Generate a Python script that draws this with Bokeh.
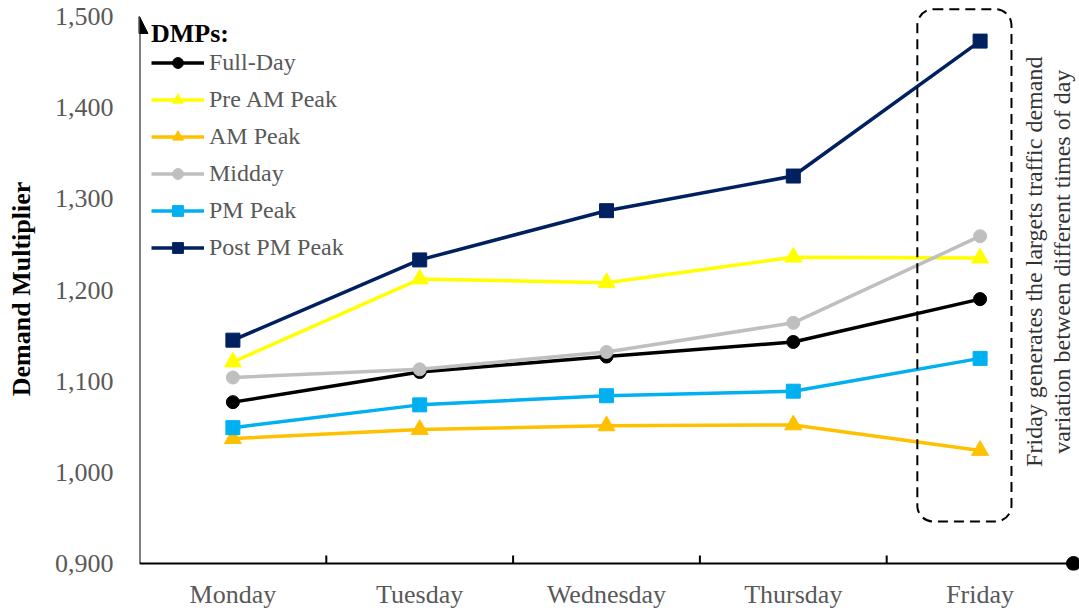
import math
from bokeh.plotting import figure
from bokeh.models import (Range1d, FixedTicker, CustomJSTickFormatter, Legend,
                          LinearAxis, Arrow, NormalHead, BoxAnnotation, Label)
from bokeh.embed import file_html
from bokeh.resources import INLINE

# Weekday demand multipliers per DMP (demand multiplier profile)
days = ["Monday", "Tuesday", "Wednesday", "Thursday", "Friday"]

full_day = [1.077, 1.110, 1.127, 1.143, 1.190]
pre_am_peak = [1.121, 1.212, 1.208, 1.236, 1.235]
am_peak = [1.037, 1.047, 1.051, 1.052, 1.024]
midday = [1.104, 1.113, 1.132, 1.164, 1.259]
pm_peak = [1.049, 1.074, 1.084, 1.089, 1.125]
post_pm_peak = [1.145, 1.233, 1.287, 1.325, 1.473]

y_ticks = [0.9, 1.0, 1.1, 1.2, 1.3, 1.4, 1.5]

series = [
    ("Full-Day", full_day, "#000000", "circle", 13),
    ("Pre AM Peak", pre_am_peak, "#FFFF00", "triangle", 17),
    ("AM Peak", am_peak, "#FFC000", "triangle", 17),
    ("Midday", midday, "#BFBFBF", "circle", 13),
    ("PM Peak", pm_peak, "#00B0F0", "square", 14),
    ("Post PM Peak", post_pm_peak, "#002060", "square", 14),
]

FONT = "Liberation Serif"
GREY_TEXT = "#595959"

W, H = 1079, 613
LEFT, TOP = 139, 7
PLOT_W, PLOT_H = 934, 547      # pixels spanned by the day bands / the y ticks
DOT_R = 7                      # radius of the cap on the horizontal axis

# day i sits in the middle of the i-th unit band
xs = [i + 0.5 for i in range(len(days))]
x_min, x_max = 0, len(days)
y_min, y_top = y_ticks[0], y_ticks[-1]
px_x = (x_max - x_min) / PLOT_W     # data units per pixel
px_y = (y_top - y_min) / PLOT_H
y_max = y_top + 9 * px_y

frame_w = W - LEFT
frame_h = PLOT_H + 9 + DOT_R
x_range = Range1d(x_min, x_min + frame_w * px_x)
y_range = Range1d(y_min - DOT_R * px_y, y_max)

p = figure(width=W, height=H, output_backend="svg", toolbar_location=None,
           x_range=x_range, y_range=y_range,
           min_border_left=LEFT, min_border_right=0, min_border_top=TOP,
           min_border_bottom=H - TOP - frame_h, x_axis_type=None, y_axis_type=None)
p.outline_line_color = None
p.background_fill_color = "white"
p.border_fill_color = "white"

xaxis = LinearAxis(
    ticker=FixedTicker(ticks=xs),
    formatter=CustomJSTickFormatter(args=dict(days=days),
                                    code="return days[Math.floor(tick)];"),
)
xaxis.axis_line_color = None
xaxis.major_tick_line_color = None
xaxis.minor_tick_line_color = None
xaxis.major_label_text_font = FONT
xaxis.major_label_text_font_size = "26px"
xaxis.major_label_text_color = GREY_TEXT
xaxis.major_label_standoff = 3
p.add_layout(xaxis, "below")

yaxis = LinearAxis(
    ticker=FixedTicker(ticks=y_ticks),
    formatter=CustomJSTickFormatter(code="return tick.toFixed(3).replace('.', ',');"),
)
yaxis.axis_line_color = None
yaxis.major_tick_line_color = None
yaxis.minor_tick_line_color = None
yaxis.major_label_text_font = FONT
yaxis.major_label_text_font_size = "26px"
yaxis.major_label_text_color = GREY_TEXT
yaxis.major_label_standoff = 20
yaxis.axis_label = "Demand Multiplier"
yaxis.axis_label_text_font = FONT
yaxis.axis_label_text_font_size = "26px"
yaxis.axis_label_text_font_style = "bold"
yaxis.axis_label_text_color = "black"
yaxis.axis_label_standoff = 16
p.add_layout(yaxis, "left")

p.ygrid.ticker = FixedTicker(ticks=y_ticks)
p.ygrid.grid_line_color = "#D9D9D9"
p.ygrid.grid_line_width = 1.5
p.ygrid.bounds = (x_min, x_max)
p.xgrid.visible = False

# horizontal axis line, band separators and the round cap at its end
p.add_layout(Arrow(start=None, end=None, x_start=x_min, y_start=y_min,
                   x_end=x_max, y_end=y_min, line_color="black", line_width=2))
band_edges = list(range(x_min + 1, x_max))
p.segment(x0=band_edges, y0=[y_min] * len(band_edges),
          x1=band_edges, y1=[y_min + 8 * px_y] * len(band_edges),
          line_color="black", line_width=2)
p.scatter([x_max], [y_min], marker="circle", size=2 * DOT_R, color="black")

# series lines with markers
legend_items = []
for name, vals, color, marker, size in series:
    ln = p.line(xs, vals, line_color=color, line_width=3.5)
    sc = p.scatter(xs, vals, marker=marker, size=size, fill_color=color,
                   line_color=color)
    legend_items.append((name, [ln, sc]))

legend = Legend(items=legend_items, location="top_left")
legend.title = "DMPs:"
legend.title_text_font = FONT
legend.title_text_font_size = "26px"
legend.title_text_font_style = "bold"
legend.title_text_color = "black"
legend.title_standoff = 0
legend.label_text_font = FONT
legend.label_text_font_size = "24px"
legend.label_text_color = GREY_TEXT
legend.glyph_width = 53
legend.glyph_height = 27
legend.label_height = 27
legend.label_standoff = 5
legend.spacing = 10
legend.margin = 0
legend.padding = 12
legend.background_fill_alpha = 0
legend.border_line_alpha = 0
p.add_layout(legend, "center")

# vertical axis drawn as an arrow
p.add_layout(Arrow(end=NormalHead(size=17, fill_color="black", line_color="black"),
                   x_start=x_min, y_start=y_min, x_end=x_min, y_end=y_top,
                   line_color="black", line_width=2))

# highlight around Friday
fri = xs[-1]
p.add_layout(BoxAnnotation(left=fri - 0.336, right=fri + 0.168,
                           bottom=0.946, top=1.508,
                           fill_alpha=0, line_color="black", line_alpha=1,
                           line_width=2, line_dash="10 6", border_radius=16))

note_lines = ["Friday generates the largets traffic demand",
              "variation between different times of day"]
for k, txt in enumerate(note_lines):
    p.add_layout(Label(x=fri + 0.286 + 0.155 * k, y=1.231, text=txt,
                       angle=math.pi / 2, text_align="center",
                       text_baseline="middle", text_font=FONT,
                       text_font_size="24px", text_color="#333333"))

open("out.html", "w").write(file_html(p, INLINE))
